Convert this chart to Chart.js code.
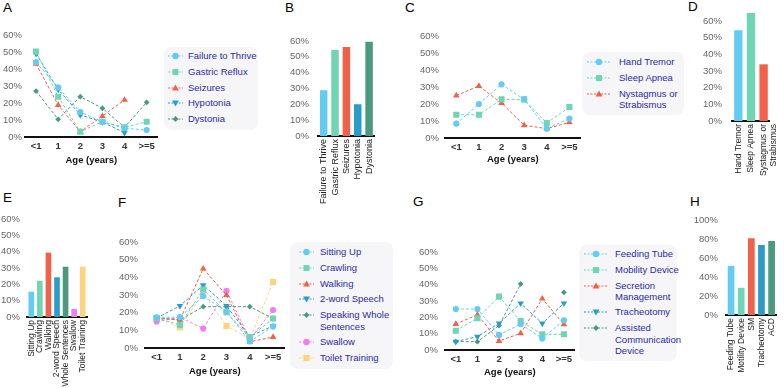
<!DOCTYPE html>
<html>
<head>
<meta charset="utf-8">
<script src="https://cdn.jsdelivr.net/npm/chart.js@4.4.0/dist/chart.umd.min.js"></script>
<style>
body { margin: 0; background: #fff; font-family: "Liberation Sans", Arial, sans-serif; }
#fig { position: relative; width: 784px; height: 388px; overflow: hidden; background: #fff; }
#fig canvas { position: absolute; }
.letter { position: absolute; font-size: 13.5px; line-height: 1; color: #000; }
.legend { position: absolute; background: #f6f6f8; border-radius: 8px; box-sizing: border-box; }
.legend .item { display: flex; align-items: flex-start; font-size: 9.5px; line-height: 11.5px; color: #2a2aa5; white-space: nowrap; margin-bottom: 3.8px; }
.legend .item svg { flex-shrink: 0; }
</style>
</head>
<body>
<div id="fig">
  <div class="letter" style="left:3px;top:1px">A</div>
  <div class="letter" style="left:285px;top:1px">B</div>
  <div class="letter" style="left:405px;top:1px">C</div>
  <div class="letter" style="left:688px;top:0px">D</div>
  <div class="letter" style="left:3px;top:191px">E</div>
  <div class="letter" style="left:118px;top:196px">F</div>
  <div class="letter" style="left:413px;top:195px">G</div>
  <div class="letter" style="left:690px;top:195px">H</div>

  <div class="legend" id="legA" style="left:164px;top:47px;width:94px;padding:3px 4px 1px 4px"></div>
  <div class="legend" id="legC" style="left:582px;top:52px;width:102px;padding:4px 4px 1px 5px"></div>
  <div class="legend" id="legF" style="left:290px;top:242px;width:103px;padding:4px 4px 1px 9px"></div>
  <div class="legend" id="legG" style="left:579px;top:245px;width:98px;padding:3px 4px 1px 5px"></div>
</div>
<script>
const ageLabels = ['<1', '1', '2', '3', '4', '>=5'];

// A - symptoms by age of onset
const failureToThrive = [44, 29.2, 14.7, 9, 5.1, 4.1];
const gastricReflux = [50.2, 23.7, 3.1, 9, 5.7, 9];
const seizures = [43, 18.8, 3.1, 12.3, 21.8, null];
const hypotonia = [49, 28, 13, 8.8, 2.5, null];
const dystonia = [27, 10.4, 23.7, 16.9, 5.7, 20.4];

// B
const symptomLabels = ['Failure to Thrive', 'Gastric Reflux', 'Seizures', 'Hypotonia', 'Dystonia'];
const symptomTotals = [28.9, 54.3, 56.2, 20.1, 59.6];

// C
const handTremor = [8.4, 20, 31.6, 22.7, 5.5, 11.4];
const sleepApnea = [13.7, 13.7, 22.7, 22.7, 8.8, 18.2];
const nystagmus = [25, 30.6, 20.6, 7.5, 5.5, 9.2];

// D
const otherLabels = ['Hand Tremor', 'Sleep Apnea', ['Systagmus or', 'Strabismus']];
const otherTotals = [54.5, 64.8, 34];

// E
const milestoneLabels = ['Sitting Up', 'Crawling', 'Walking', '2-word Speech', 'Whole Sentences', 'Swallow', 'Toilet Training'];
const milestoneTotals = [15.5, 22.2, 39.4, 24.3, 30.8, 4.9, 30.8];

// F
const sittingUp = [17.4, 17.4, 29.4, 20.6, 3.7, 12.2];
const crawling = [17, 13.1, 33.1, 20.2, 6.2, 16.7];
const walking = [17, 15.9, 44.9, 29.9, 3.5, 6.2];
const twoWordSpeech = [17, 23.8, 35.6, 23.8, 6.6, 12.5];
const wholeSentences = [17, 15.9, 23.4, 23.4, 23.4, 16.7];
const swallow = [15, 17.4, 11, 32.4, 5, 21.5];
const toiletTraining = [17, 11.8, 30.8, 12.5, 5, 37.4];

// G
const feedingTube = [25.1, 25.1, 9.2, 15.9, 7.1, 18.2];
const mobilityDevice = [11.8, 19.4, 32.7, 17.8, 9.6, 9.6];
const secretionMgmt = [15.9, 21.6, 5.5, 10.2, 31.4, 15.7];
const tracheotomy = [5.1, 8.2, 16.3, 28.6, 16.3, 28.6];
const assistedComm = [5.1, 5.1, 14.9, 40.4, null, 35.3];

// H
const interventionLabels = ['Feeding Tube', 'Motility Device', 'SM', 'Tracheotomy', 'ACD'];
const interventionTotals = [51.6, 28.8, 80.7, 73.7, 77.9];

const C1 = '#64cbf3', C2 = '#6ed6b4', C3 = '#f1604b', C4 = '#2b9cc8', C5 = '#4b9a80', C6 = '#f07df2', C7 = '#fed37e';

const fig = document.getElementById('fig');

// top padding has to cover half a tick label plus the tick padding
function place(plot, yw, ypad, xh, padRight) {
  const padTop = ypad + 6;
  const c = document.createElement('canvas');
  c.width = plot.right - plot.left + yw + padRight;
  c.height = plot.bottom - plot.top + padTop + xh;
  c.style.left = (plot.left - yw) + 'px';
  c.style.top = (plot.top - padTop) + 'px';
  fig.appendChild(c);
  return { canvas: c, padTop };
}

function yAxis(max, step, yw, pad) {
  return {
    min: 0, max: max,
    grid: { display: false, drawTicks: false },
    border: { display: false },
    ticks: { padding: pad, color: '#666', font: { size: 9.5 }, callback: v => v + '%' },
    afterBuildTicks: s => {
      const t = [];
      for (let v = 0; v <= max; v += step) t.push({ value: v });
      s.ticks = t;
    },
    afterFit: s => { s.width = yw; }
  };
}

function series(label, data, color, shape) {
  const st = { circle: ['circle', 3.1, 0], square: ['rect', 4.3, 0], up: ['triangle', 3.8, 0],
               down: ['triangle', 3.8, 180], diamond: ['rectRot', 2.9, 0] }[shape];
  return { label, data, shape, borderColor: color, backgroundColor: color, borderWidth: 1,
           borderDash: [3, 2], pointStyle: st[0], pointRadius: st[1], pointRotation: st[2],
           pointBorderWidth: 0, spanGaps: false, tension: 0 };
}

function lineChart(plot, yw, ypad, xh, sets) {
  const p = place(plot, yw, ypad, xh, 3);
  new Chart(p.canvas, {
    type: 'line',
    data: { labels: ageLabels, datasets: sets },
    options: {
      responsive: false, animation: false, devicePixelRatio: 1,
      layout: { padding: { top: p.padTop, right: 3, left: 0, bottom: 0 } },
      plugins: { legend: { display: false }, tooltip: { enabled: false } },
      scales: {
        x: {
          offset: true,
          grid: { display: false, drawTicks: false },
          border: { color: '#111', width: 2 },
          ticks: { color: '#333', font: { size: 9.5, weight: 'bold' }, padding: 4, maxRotation: 0, autoSkip: false },
          title: { display: true, text: 'Age (years)', color: '#111', font: { size: 9.5, weight: 'bold' }, padding: 0 },
          afterFit: s => { s.height = xh; }
        },
        y: yAxis(60, 10, yw, ypad)
      }
    }
  });
}

function barChart(plot, yw, ypad, xh, padRight, labels, values, colors, max, step, fontSize) {
  const p = place(plot, yw, ypad, xh, padRight);
  new Chart(p.canvas, {
    type: 'bar',
    data: { labels: labels, datasets: [{ data: values, backgroundColor: colors, borderWidth: 0,
      categoryPercentage: 1, barPercentage: 0.66 }] },
    options: {
      responsive: false, animation: false, devicePixelRatio: 1,
      layout: { padding: { top: p.padTop, right: padRight, left: 0, bottom: 0 } },
      plugins: { legend: { display: false }, tooltip: { enabled: false } },
      scales: {
        x: {
          grid: { display: false, drawTicks: false },
          border: { color: '#111', width: 2 },
          ticks: { color: '#222', font: { size: fontSize }, padding: 3, minRotation: 90, maxRotation: 90, autoSkip: false },
          afterFit: s => { s.height = xh; }
        },
        y: yAxis(max, step, yw, ypad)
      }
    }
  });
}

function marker(color, shape, w) {
  const cx = w / 2, cy = 6;
  let m;
  if (shape === 'circle') m = `<circle cx="${cx}" cy="${cy}" r="3.2" fill="${color}"/>`;
  else if (shape === 'square') m = `<rect x="${cx - 3}" y="${cy - 3}" width="6" height="6" fill="${color}"/>`;
  else if (shape === 'up') m = `<polygon points="${cx},${cy - 3.6} ${cx + 3.4},${cy + 2.6} ${cx - 3.4},${cy + 2.6}" fill="${color}"/>`;
  else if (shape === 'down') m = `<polygon points="${cx},${cy + 3.6} ${cx + 3.4},${cy - 2.6} ${cx - 3.4},${cy - 2.6}" fill="${color}"/>`;
  else m = `<polygon points="${cx},${cy - 3} ${cx + 3},${cy} ${cx},${cy + 3} ${cx - 3},${cy}" fill="${color}"/>`;
  return `<svg width="${w}" height="12"><line x1="0" y1="${cy}" x2="${w}" y2="${cy}" stroke="${color}" stroke-width="1" stroke-dasharray="2,1.5"/>${m}</svg>`;
}

function legend(id, sets, w, gap) {
  document.getElementById(id).innerHTML = sets.map(s =>
    `<div class="item">${marker(s.borderColor, s.shape, w)}<span style="margin-left:${gap}px">${s.label.replace(/\n/g, '<br>')}</span></div>`
  ).join('');
}

// A
const setsA = [
  series('Failure to Thrive', failureToThrive, C1, 'circle'),
  series('Gastric Reflux', gastricReflux, C2, 'square'),
  series('Seizures', seizures, C3, 'up'),
  series('Hypotonia', hypotonia, C4, 'down'),
  series('Dystonia', dystonia, C5, 'diamond')
];
lineChart({ left: 25, right: 159, top: 35, bottom: 137 }, 25, 3, 29, setsA);
legend('legA', setsA, 15, 5);

// B
barChart({ left: 318, right: 382, top: 41, bottom: 136 }, 31, 9, 75, 1,
  symptomLabels, symptomTotals, [C1, C2, C3, C4, C5], 60, 10, 9);

// C
const setsC = [
  series('Hand Tremor', handTremor, C1, 'circle'),
  series('Sleep Apnea', sleepApnea, C2, 'square'),
  series('Nystagmus or\nStrabismus', nystagmus, C3, 'up')
];
lineChart({ left: 445, right: 582, top: 36, bottom: 138 }, 30, 6, 27, setsC);
legend('legC', setsC, 24, 8);

// D
barChart({ left: 732, right: 782, top: 11, bottom: 121 }, 32, 10, 75, 6,
  otherLabels, otherTotals, [C1, C2, C3], 66, 10, 8.5);

// E
barChart({ left: 27, right: 95, top: 219, bottom: 317 }, 27, 7, 70, 1,
  milestoneLabels, milestoneTotals, [C1, C2, C3, C4, C5, C6, C7], 60, 10, 8.5);

// F
const setsF = [
  series('Sitting Up', sittingUp, C1, 'circle'),
  series('Crawling', crawling, C2, 'square'),
  series('Walking', walking, C3, 'up'),
  series('2-word Speech', twoWordSpeech, C4, 'down'),
  series('Speaking Whole\nSentences', wholeSentences, C5, 'diamond'),
  series('Swallow', swallow, C6, 'circle'),
  series('Toilet Training', toiletTraining, C7, 'square')
];
lineChart({ left: 145, right: 286, top: 242, bottom: 348 }, 30, 7, 29, setsF);
legend('legF', setsF, 15, 6);

// G
const setsG = [
  series('Feeding Tube', feedingTube, C1, 'circle'),
  series('Mobility Device', mobilityDevice, C2, 'square'),
  series('Secretion\nManagement', secretionMgmt, C3, 'up'),
  series('Tracheotomy', tracheotomy, C4, 'down'),
  series('Assisted\nCommunication\nDevice', assistedComm, C5, 'diamond')
];
lineChart({ left: 445, right: 576, top: 252, bottom: 350 }, 30, 7, 28, setsG);
legend('legG', setsG, 24, 7);

// H
barChart({ left: 726, right: 783, top: 220, bottom: 315 }, 33, 8, 70, 2,
  interventionLabels, interventionTotals, [C1, C2, C3, C4, C5], 100, 20, 8.5);
</script>
</body>
</html>
